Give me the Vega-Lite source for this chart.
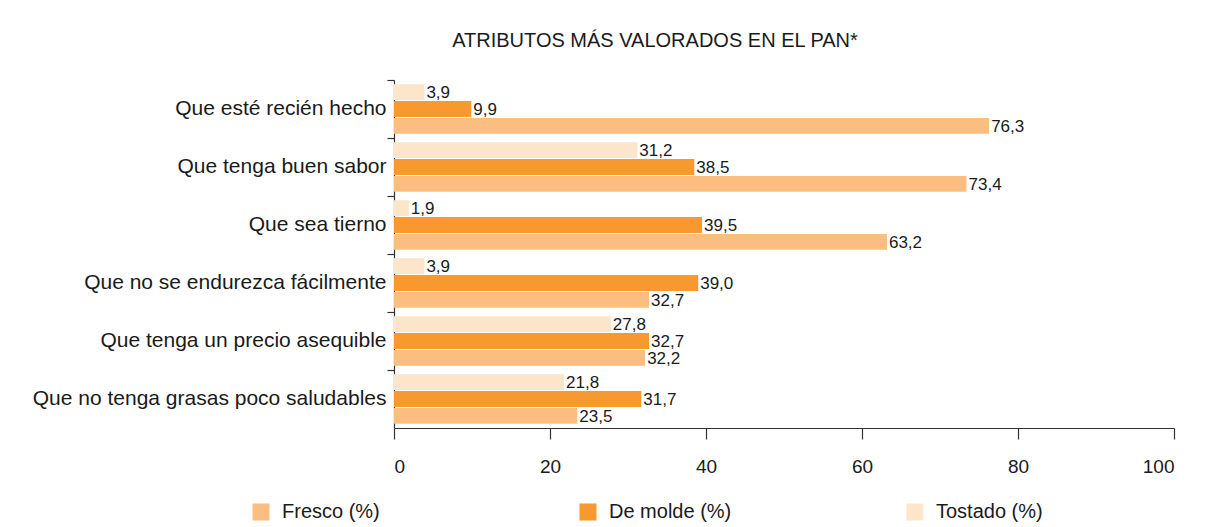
{
  "$schema": "https://vega.github.io/schema/vega-lite/v6.json",
  "autosize": "none",
  "padding": {"left": 394, "top": 80, "right": 34, "bottom": 99},
  "width": 780,
  "height": 348,
  "background": "white",
  "config": {
    "font": "Liberation Sans",
    "view": {"stroke": null},
    "locale": {"number": {"decimal": ",", "thousands": ".", "grouping": [3], "currency": ["", " €"]}}
  },
  "title": {
    "text": "ATRIBUTOS MÁS VALORADOS EN EL PAN*",
    "font": "Liberation Sans",
    "fontSize": 20,
    "fontWeight": "normal",
    "color": "#1a1a1a",
    "anchor": "middle",
    "dx": -129,
    "offset": 28
  },
  "data": {
    "values": [
      {"atributo": "Que esté recién hecho", "tipo": "Fresco (%)", "valor": 76.3},
      {"atributo": "Que esté recién hecho", "tipo": "De molde (%)", "valor": 9.9},
      {"atributo": "Que esté recién hecho", "tipo": "Tostado (%)", "valor": 3.9},
      {"atributo": "Que tenga buen sabor", "tipo": "Fresco (%)", "valor": 73.4},
      {"atributo": "Que tenga buen sabor", "tipo": "De molde (%)", "valor": 38.5},
      {"atributo": "Que tenga buen sabor", "tipo": "Tostado (%)", "valor": 31.2},
      {"atributo": "Que sea tierno", "tipo": "Fresco (%)", "valor": 63.2},
      {"atributo": "Que sea tierno", "tipo": "De molde (%)", "valor": 39.5},
      {"atributo": "Que sea tierno", "tipo": "Tostado (%)", "valor": 1.9},
      {"atributo": "Que no se endurezca fácilmente", "tipo": "Fresco (%)", "valor": 32.7},
      {"atributo": "Que no se endurezca fácilmente", "tipo": "De molde (%)", "valor": 39.0},
      {"atributo": "Que no se endurezca fácilmente", "tipo": "Tostado (%)", "valor": 3.9},
      {"atributo": "Que tenga un precio asequible", "tipo": "Fresco (%)", "valor": 32.2},
      {"atributo": "Que tenga un precio asequible", "tipo": "De molde (%)", "valor": 32.7},
      {"atributo": "Que tenga un precio asequible", "tipo": "Tostado (%)", "valor": 27.8},
      {"atributo": "Que no tenga grasas poco saludables", "tipo": "Fresco (%)", "valor": 23.5},
      {"atributo": "Que no tenga grasas poco saludables", "tipo": "De molde (%)", "valor": 31.7},
      {"atributo": "Que no tenga grasas poco saludables", "tipo": "Tostado (%)", "valor": 21.8}
    ]
  },
  "encoding": {
    "y": {
      "field": "atributo",
      "type": "nominal",
      "sort": null,
      "scale": {"paddingInner": 0, "paddingOuter": 0},
      "axis": {
        "title": null,
        "bandPosition": 0,
        "tickSize": 7,
        "tickColor": "#333",
        "domainColor": "#333",
        "tickWidth": 1.2,
        "domainWidth": 1.2,
        "labelFontSize": 21,
        "labelColor": "#1a1a1a",
        "labelPadding": 1,
        "labelLimit": 400
      }
    },
    "yOffset": {
      "field": "tipo",
      "type": "nominal",
      "scale": {"domain": ["Tostado (%)", "De molde (%)", "Fresco (%)"], "paddingInner": 0.06, "paddingOuter": 0.25}
    },
    "x": {
      "field": "valor",
      "type": "quantitative",
      "scale": {"domain": [0, 100], "nice": false},
      "axis": {
        "title": null,
        "values": [0, 20, 40, 60, 80, 100],
        "grid": false,
        "tickSize": 11,
        "tickColor": "#333",
        "domainColor": "#333",
        "tickWidth": 1.2,
        "domainWidth": 1.2,
        "labelFontSize": 19,
        "labelColor": "#1a1a1a",
        "labelPadding": 18,
        "format": "d"
      }
    }
  },
  "layer": [
    {
      "mark": {"type": "bar"},
      "encoding": {
        "color": {
          "field": "tipo",
          "type": "nominal",
          "scale": {"domain": ["Fresco (%)", "De molde (%)", "Tostado (%)"], "range": ["#FBBE80", "#F7992E", "#FDE5CA"]},
          "legend": {
            "title": null,
            "orient": "none",
            "direction": "horizontal",
            "legendX": -143,
            "legendY": 422,
            "symbolType": "square",
            "symbolSize": 290,
            "symbolStrokeWidth": 0,
            "labelFontSize": 20,
            "labelColor": "#1a1a1a",
            "labelOffset": 11,
            "gridAlign": "all",
            "columnPadding": 173,
            "labelLimit": 300
          }
        }
      }
    },
    {
      "mark": {"type": "text", "align": "left", "baseline": "middle", "dx": 2, "dy": 1, "fontSize": 17, "color": "#1a1a1a"},
      "encoding": {
        "text": {"field": "valor", "type": "quantitative", "format": ".1f"}
      }
    }
  ]
}
